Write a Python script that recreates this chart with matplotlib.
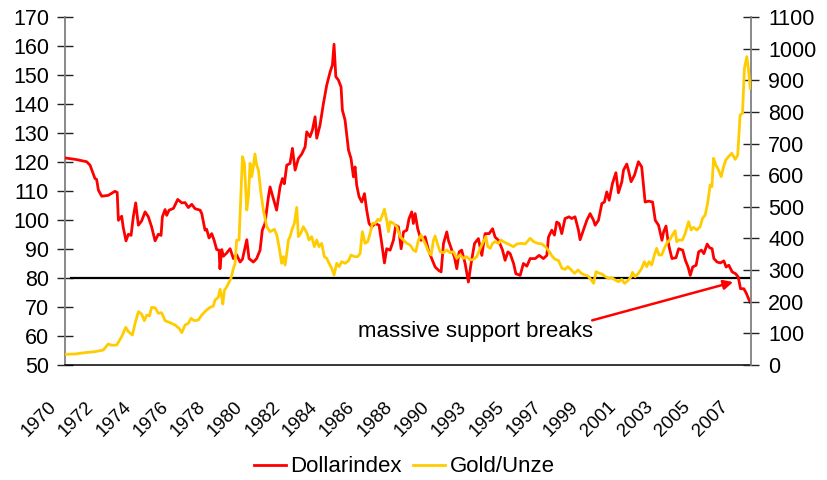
import matplotlib
matplotlib.use("Agg")
import matplotlib.pyplot as plt
import matplotlib.transforms as mtransforms

plt.rcParams['font.family'] = ['Liberation Sans', 'DejaVu Sans']

# month index (0 = Feb 1970), label every 25 months
year_labels = ["1970", "1972", "1974", "1976", "1978", "1980", "1982", "1984", "1986",
               "1988", "1990", "1993", "1995", "1997", "1999", "2001", "2003", "2005", "2007"]
label_step = 25
last_month = 460

dollar_t = [0, 7, 14.5, 16.8, 20.1, 21.2, 22.4, 24.6, 29, 33.5, 35, 35.8, 38, 39, 40.9, 42.5, 44.3,
            45.8, 47.4, 49.2, 51.4, 53.7, 55.9, 58.1, 60.4, 62.6, 64.4, 65.3, 67.1, 68.2, 69.8,
            72.7, 75.6, 78.3, 80.5, 82.7, 85, 87.2, 90.6, 91.7, 93.9, 95, 96.6, 98.4, 100, 101.7,
            103.3, 103.9, 105.1, 106.2, 108.4, 110.7, 112.9, 115.1, 117.4, 119, 121.9, 123.4,
            126.3, 128.5, 130.8, 132.3, 134.1, 136.4, 137.5, 139.7, 141.9, 144.2, 145.8, 147.1,
            148.7, 150.9, 152.5, 154.3, 156.5, 158.7, 161, 162.1, 164.3, 165.9, 167.7, 168.8,
            171, 173.3, 175.5, 177.8, 179.3, 180.4, 181.6, 183.3, 185.1, 186, 187.8, 190.1,
            191.8, 193.4, 194.5, 195.6, 197.2, 199, 200.8, 202.3, 203.9, 205.7, 207.9, 210.6,
            212.4, 214.2, 215.7, 218, 220.2, 221.8, 223.6, 225.4, 227, 229.2, 230.7, 232.5,
            233.6, 234.8, 236.5, 238.8, 241.5, 243.7, 245.9, 248.2, 250.4, 252.2, 253.8, 256,
            257.1, 259.4, 261.1, 262.7, 264.3, 266, 268.3, 270.5, 272.3, 274.6, 277.2, 279.5,
            281.7, 284.4, 286.7, 288.4, 290.7, 293.4, 295.1, 297, 298.5, 300.8, 302.3, 305.2,
            307.4, 309.7, 311.9, 315.3, 317.9, 320.8, 323.1, 324.2, 326.4, 328.2, 329.7, 331.3,
            333.1, 335.3, 338, 339.8, 342, 344.3, 345.4, 347.6, 349.9, 352.1, 354.4, 355.5,
            357.7, 360, 361.7, 363.3, 364.9, 367.1, 369.4, 371.1, 373.4, 374.5, 376.7, 377.8,
            379.6, 381.9, 384.5, 386.7, 389, 391.3, 394, 395.8, 398, 400.3, 401.4, 403, 404.3,
            405.2, 407, 409.7, 411.5, 414.2, 416, 417.8, 419.3, 420.9, 423.2, 424.9, 426.8,
            428.4, 430.6, 432.1, 433.9, 435.1, 437.3, 439.5, 441.8, 443.3, 445.1, 447.4, 449.6,
            451.4, 453, 455.2, 456.8, 459.3]
dollar_v = [121.4, 120.9, 120.1, 118.9, 114.3, 114.0, 110.3, 108.2, 108.5, 109.9, 109.5, 99.9,
            101.3, 97.6, 92.8, 95.1, 94.7, 101.1, 105.9, 98.2, 99.7, 102.8, 101.1, 97.6, 92.8,
            95.1, 94.7, 101.1, 103.6, 101.6, 103.4, 104.0, 107.1, 105.9, 106.0, 104.3, 105.4,
            103.9, 103.4, 102.2, 96.5, 96.8, 93.8, 95.3, 93.0, 89.8, 89.6, 83.2, 89.8, 87.5,
            88.6, 90.1, 86.7, 88.0, 85.5, 86.5, 93.2, 86.7, 85.5, 86.7, 89.6, 96.5, 98.8, 108.0,
            111.4, 107.4, 103.4, 111.4, 114.3, 112.5, 118.9, 119.5, 124.7, 117.2, 121.2, 122.7,
            125.2, 130.4, 128.7, 131.0, 135.6, 128.2, 132.7, 140.2, 146.5, 151.1, 153.4, 160.6,
            149.4, 148.3, 145.9, 137.9, 134.4, 124.1, 121.2, 114.9, 118.3, 112.0, 108.0, 106.2,
            109.1, 103.4, 98.8, 97.6, 98.8, 98.2, 91.9, 85.2, 90.1, 89.6, 93.0, 98.2, 97.6, 90.1,
            95.9, 96.5, 100.5, 102.8, 98.8, 102.2, 97.0, 93.0, 94.2, 89.6, 86.7, 83.8, 82.7, 82.1,
            91.9, 95.9, 93.0, 89.6, 87.3, 83.2, 89.0, 89.6, 85.0, 78.6, 85.0, 91.9, 93.6, 87.8,
            95.3, 95.3, 97.0, 94.1, 93.0, 89.6, 86.1, 89.0, 88.4, 85.0, 81.5, 80.9, 85.0, 84.1,
            86.7, 86.7, 87.8, 86.7, 87.8, 94.1, 96.5, 94.8, 99.3, 98.8, 95.3, 100.5, 101.1, 100.5,
            101.1, 96.5, 93.2, 96.5, 99.9, 102.2, 99.9, 98.2, 99.9, 105.7, 106.2, 109.7, 106.8,
            112.6, 116.3, 109.4, 113.2, 117.2, 119.3, 117.2, 113.2, 115.5, 120.1, 118.3, 106.2,
            106.5, 106.2, 99.9, 98.2, 93.0, 95.9, 97.9, 93.0, 90.5, 86.7, 87.0, 90.1, 89.6, 86.1,
            83.8, 80.9, 83.8, 84.4, 89.0, 89.6, 88.4, 91.7, 90.5, 90.1, 86.7, 85.5, 85.2, 85.9,
            83.8, 84.4, 82.1, 81.5, 80.4, 76.3, 76.3, 74.8, 71.7]

gold_t = [0, 6.7, 13.4, 20.1, 25.7, 29, 31.3, 34.7, 38, 40.7, 42.5, 45.2, 47, 49.2, 51.4, 53.2,
          54.8, 56.6, 58.1, 60.4, 62.6, 64.8, 67.1, 70.4, 73.8, 76.5, 78.3, 80.5, 82.7, 84.5,
          86.7, 89.4, 91.7, 95, 97.3, 99.5, 100.6, 102.8, 104, 105.1, 105.8, 106.9, 107.8, 109.1,
          111.3, 112.9, 114, 115.1, 116.7, 118, 119, 120.3, 121.9, 123, 124.1, 125.2, 126.3,
          127.4, 128.5, 129.7, 131.4, 133, 135.3, 137.5, 140.4, 142, 143.5, 145.3, 146.4, 147.6,
          148.7, 149.8, 150.9, 152.1, 153.8, 155.4, 156.5, 158.1, 159.8, 162.1, 163.6, 165.4,
          167.2, 168.8, 170.3, 172.1, 173.9, 175.5, 177.1, 178.8, 180.4, 182.2, 183.8, 185.5,
          187.8, 190.1, 191.8, 194.1, 196.3, 197.9, 199.4, 201.2, 203, 204.6, 206.2, 207.9,
          209.8, 211.3, 212.4, 214.2, 215.7, 216.9, 218, 220.2, 222.5, 224.7, 227, 229.2, 231.4,
          233.6, 235.2, 237, 238.8, 240.3, 241.5, 243.7, 245.5, 247.1, 248.2, 250, 251.5, 253.8,
          256, 258.2, 260.5, 262.7, 264.9, 267.2, 269.4, 271.6, 273.9, 276.1, 278.4, 280.6,
          282.2, 283.5, 285.1, 286.7, 288.4, 290.7, 292.4, 294, 296.3, 298.5, 300.7, 303, 305.9,
          308.6, 311.9, 314.2, 317.1, 319.8, 322.5, 324.7, 326.9, 328.7, 331, 333.2, 335.4,
          337.2, 339.5, 341.7, 344, 346.2, 348.5, 350.7, 352.9, 354.5, 356.1, 358.4, 360.2,
          362.4, 364.4, 366.7, 368.9, 371.2, 373.4, 375.2, 377.4, 379.6, 380.5, 382.3, 384.5,
          386.7, 388.5, 390.1, 391.6, 393.4, 395.2, 396.7, 398.3, 400.1, 401.9, 403.5, 405.7,
          407.3, 409.1, 410.2, 411.8, 414, 415.9, 418.1, 419.9, 421.4, 423.7, 425.9, 427.5,
          429.3, 431.1, 432.6, 433.8, 434.9, 436.4, 438.2, 440, 441.6, 443.1, 444.9, 447.1,
          449.4, 451.1, 452.7, 454.3, 455.6, 457.2, 458.3, 459.5]
gold_v = [33.7, 34.8, 39.0, 42.1, 47.4, 66.4, 62.2, 63.2, 89.6, 119.0, 105.4, 94.8, 131.7, 168.6,
          161.0, 140.1, 158.0, 155.0, 182.3, 181.0, 163.3, 165.4, 140.1, 133.8, 126.4, 115.9,
          102.2, 126.4, 131.7, 147.5, 140.1, 142.2, 158.0, 173.9, 182.3, 186.5, 205.5, 214.0,
          239.2, 216.0, 192.8, 237.0, 242.3, 252.9, 274.0, 305.6, 320.0, 395.0, 395.0, 542.7,
          658.6, 637.5, 490.0, 532.0, 637.5, 595.3, 627.0, 667.0, 632.2, 616.0, 542.7, 490.0,
          437.3, 421.5, 428.9, 411.0, 374.1, 321.4, 342.5, 316.1, 353.0, 395.1, 405.7, 426.7,
          447.8, 498.4, 405.7, 416.2, 437.3, 418.3, 395.1, 405.7, 374.1, 395.1, 374.1, 384.6,
          342.5, 337.2, 321.4, 305.6, 284.5, 321.4, 310.9, 326.6, 321.4, 329.8, 347.7, 342.5,
          342.5, 353.0, 421.5, 384.6, 389.9, 416.2, 447.8, 447.8, 460.5, 456.3, 469.0, 492.1,
          458.4, 421.5, 453.1, 447.8, 437.3, 405.7, 395.1, 384.6, 379.3, 363.5, 358.3, 395.0,
          410.9, 395.0, 384.6, 358.3, 347.7, 395.1, 407.8, 379.3, 358.3, 355.0, 363.5, 355.0,
          358.3, 337.2, 347.7, 337.2, 342.5, 331.9, 334.0, 342.5, 368.8, 389.9, 405.7, 374.1,
          368.8, 384.6, 389.9, 384.6, 395.1, 389.9, 384.6, 379.3, 374.1, 382.5, 384.6, 382.5,
          400.4, 389.9, 384.6, 382.5, 372.0, 358.3, 342.5, 334.0, 329.8, 305.6, 302.4, 310.9,
          300.3, 289.8, 300.3, 289.8, 284.5, 281.4, 268.7, 258.2, 295.0, 289.8, 287.0, 279.2,
          274.0, 276.0, 268.7, 263.4, 270.8, 258.2, 266.6, 279.2, 292.9, 279.2, 289.8, 305.6,
          326.6, 310.9, 326.6, 316.1, 347.7, 368.8, 347.7, 347.7, 368.8, 384.6, 397.2, 410.9,
          424.6, 389.9, 395.1, 395.1, 416.2, 453.1, 426.7, 435.2, 426.7, 437.3, 463.6, 474.1,
          516.3, 569.0, 563.7, 653.3, 632.2, 616.4, 595.3, 627.0, 648.0, 658.6, 669.1, 650.1,
          663.8, 790.3, 795.5, 937.8, 974.7, 932.6, 874.6]

support_level = 80
support_start = 4
annotation_text = "massive support breaks"

W, H = 827, 480
fig = plt.figure(figsize=(W / 100, H / 100), dpi=100)
ax = fig.add_axes([65 / W, 1 - 365 / H, 686 / W, 348 / H])
ax2 = ax.twinx()

red = "#FF0000"
gold = "#FFCC00"

l1, = ax.plot(dollar_t, dollar_v, color=red, lw=2.0, solid_joinstyle="round", label="Dollarindex", zorder=3)
l2, = ax2.plot(gold_t, gold_v, color=gold, lw=2.0, solid_joinstyle="round", label="Gold/Unze", zorder=3)
ax.plot([support_start, last_month], [support_level, support_level], color="black", lw=1.6, zorder=2)

ax.set_xlim(0, last_month)
ax.set_ylim(50, 170)
ax2.set_ylim(0, 1100)
ax.set_yticks(range(50, 171, 10))
ax2.set_yticks(range(0, 1101, 100))

for a in (ax, ax2):
    for s in a.spines.values():
        s.set_visible(False)
ax.spines["left"].set_visible(True)
ax.spines["left"].set_color("#808080")
ax.spines["left"].set_linewidth(1.3)
ax.spines["bottom"].set_visible(True)
ax.spines["bottom"].set_color("black")
ax.spines["bottom"].set_linewidth(1.1)
ax2.spines["right"].set_visible(True)
ax2.spines["right"].set_color("#808080")
ax2.spines["right"].set_linewidth(1.3)

ax.tick_params(axis="y", direction="inout", length=11, width=1.0, color="#222222",
               labelsize=15.5, pad=6)
ax2.tick_params(axis="y", direction="inout", length=11, width=1.0, color="#222222",
                labelsize=15.5, pad=7)

ticks = [i * label_step for i in range(len(year_labels))]
ax.set_xticks(ticks)
ax.set_xticklabels(year_labels, rotation=45, ha="right", va="top", rotation_mode="anchor", fontsize=13.5)
ax.tick_params(axis="x", length=0, pad=0)
offset = mtransforms.ScaledTranslation(-17 / 100, -33 / 100, fig.dpi_scale_trans)
for lab in ax.get_xticklabels():
    lab.set_transform(lab.get_transform() + offset)

# annotation
ax.text(196.5, 59.6, annotation_text, fontsize=16, ha="left", va="baseline", color="black")
ax.annotate("", xy=(448, 78.6), xytext=(353.5, 65.4),
            arrowprops=dict(arrowstyle="-|>", color=red, lw=1.8, mutation_scale=14,
                            shrinkA=0, shrinkB=0))

fig.legend(handles=[l1, l2], loc="center", bbox_to_anchor=(404 / W, 1 - 467 / H), ncol=2,
           frameon=False, fontsize=16, handlelength=1.45, handletextpad=0.2,
           columnspacing=0.5, borderpad=0, borderaxespad=0)

fig.savefig("out.png", dpi=100)
